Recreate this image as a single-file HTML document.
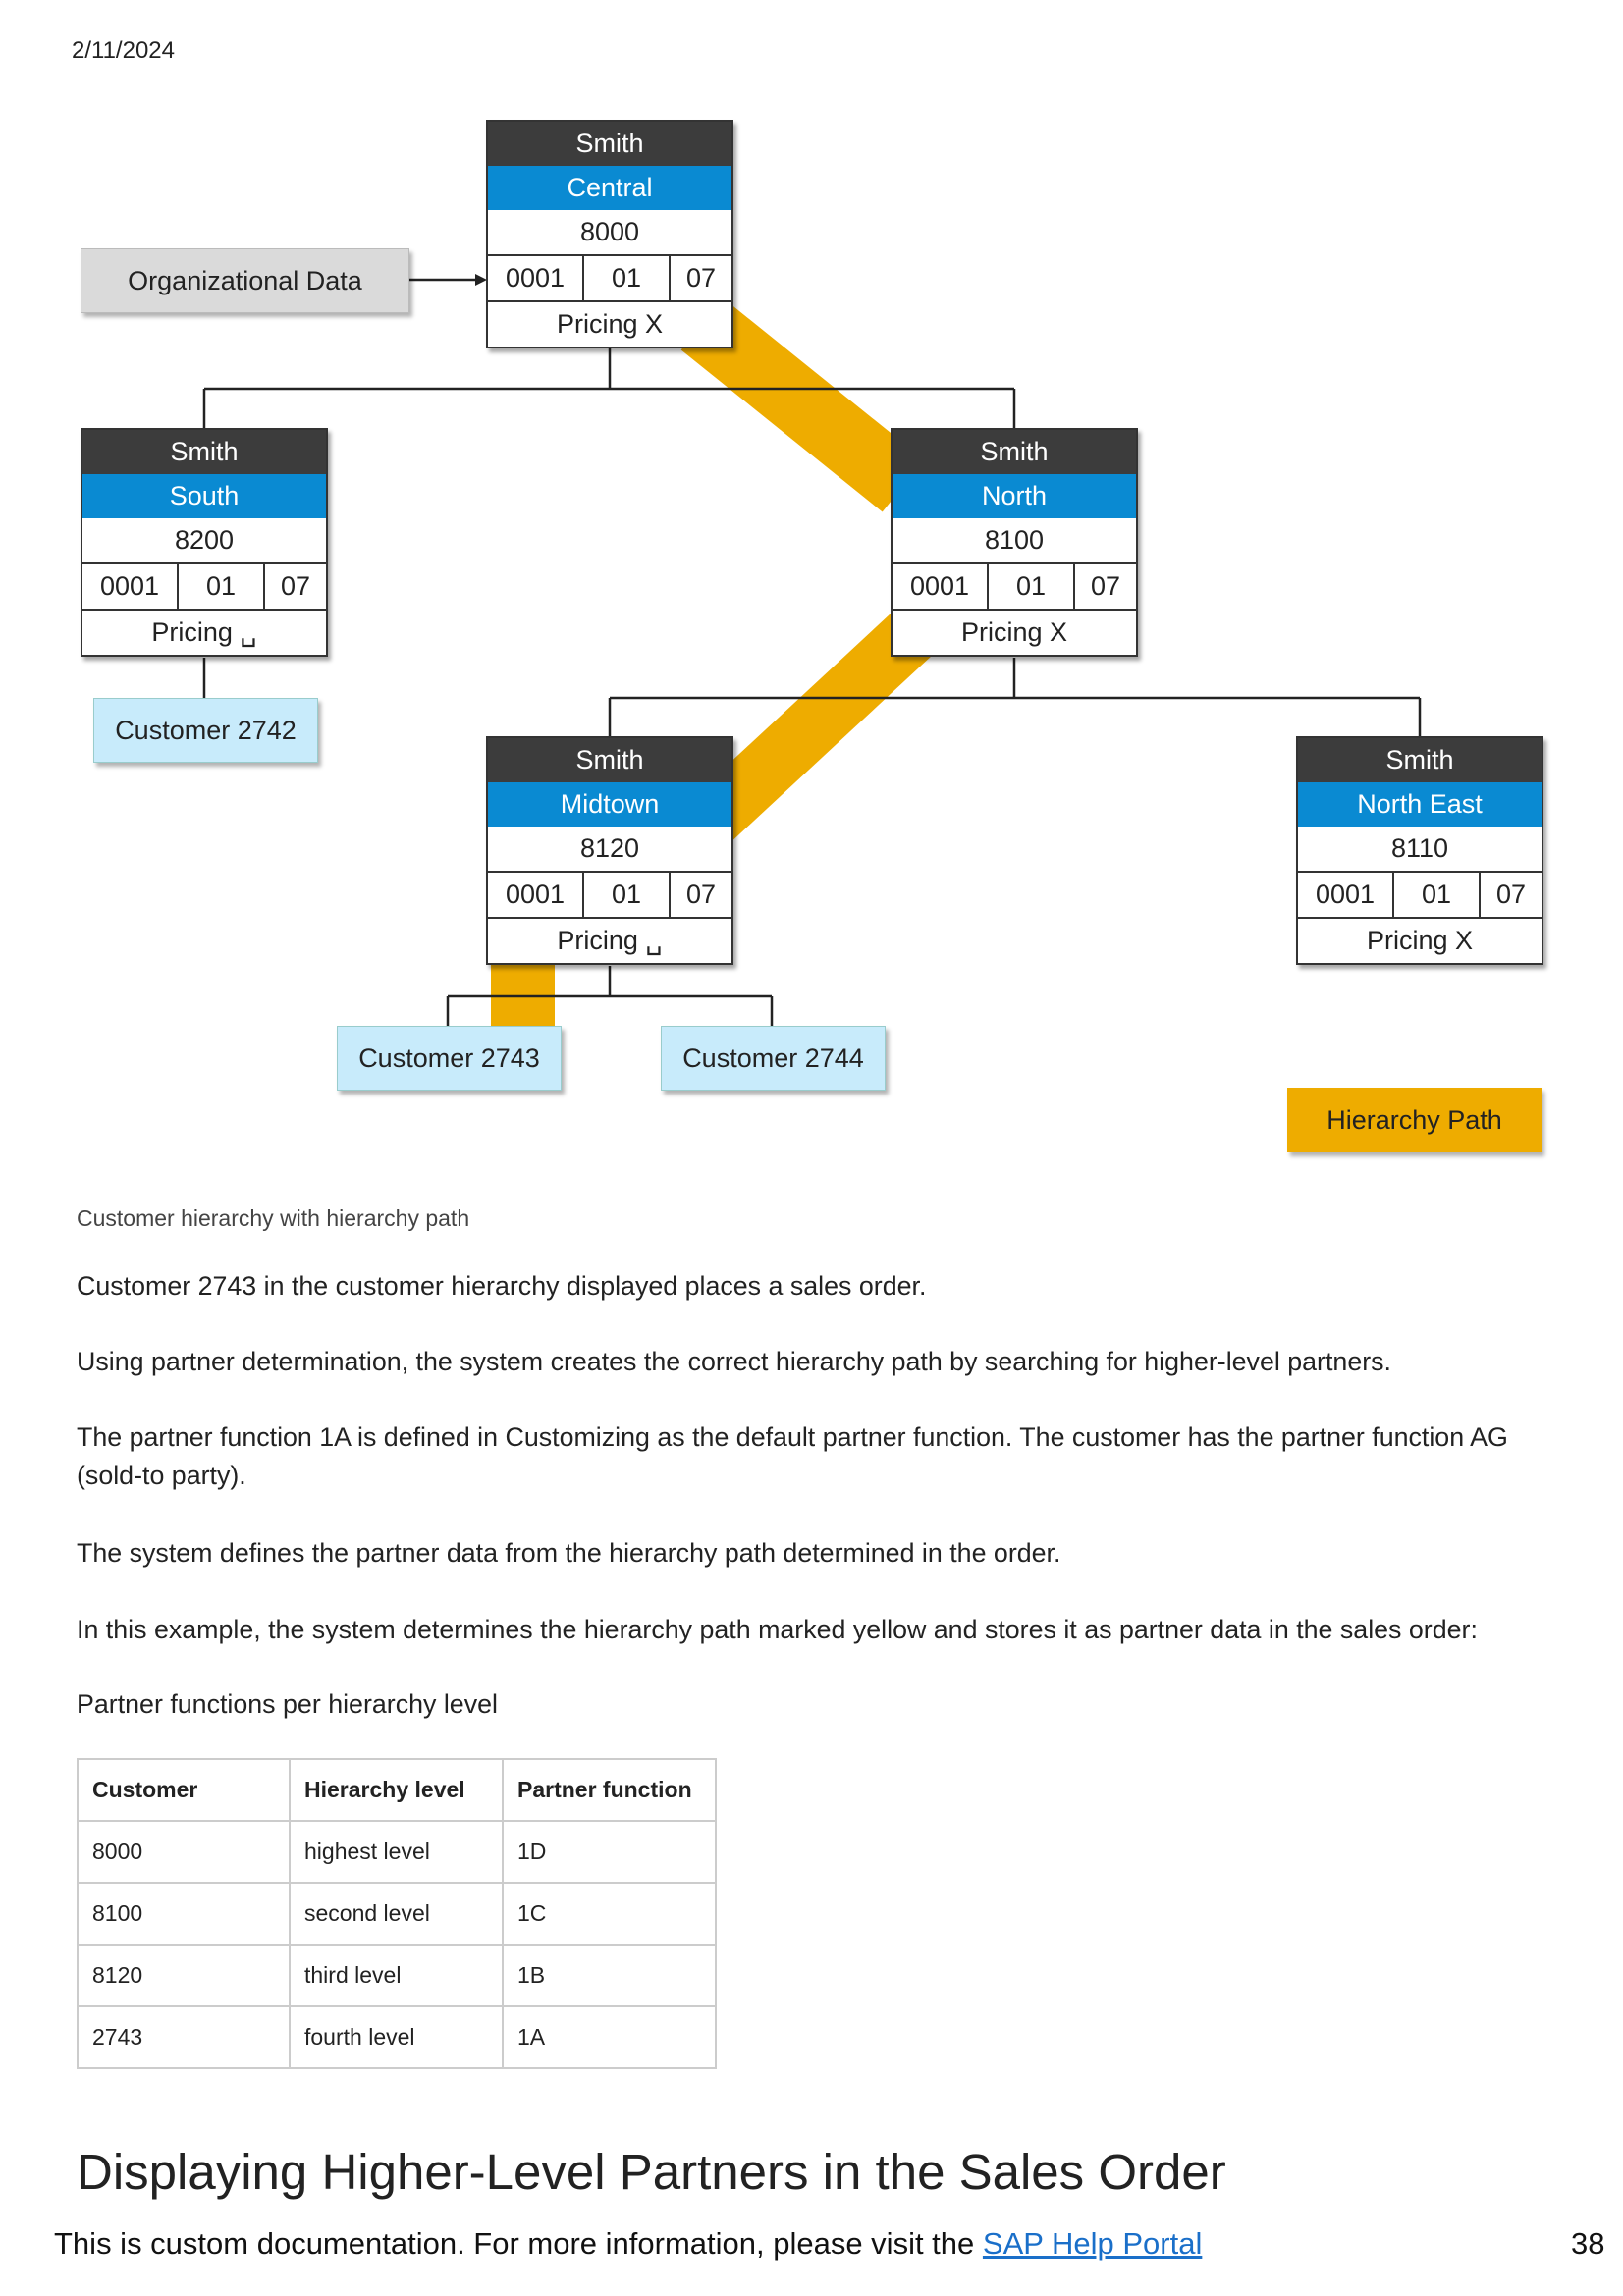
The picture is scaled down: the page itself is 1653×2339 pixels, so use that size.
<!DOCTYPE html>
<html><head><meta charset="utf-8"><style>
html,body{margin:0;padding:0;background:#fff}
body{width:1653px;height:2339px;position:relative;overflow:hidden;font-family:"Liberation Sans",sans-serif;color:#222}
.a{position:absolute}
.node{position:absolute;width:248px;border:2px solid #333;box-shadow:3px 4px 4px rgba(0,0,0,.35);background:#fff;font-size:27px;text-align:center}
.node div{height:45px;line-height:45px;box-sizing:border-box}
.node div.r{height:47px}
.h1{background:#3c3c3c;color:#fff}
.h2{background:#0a8ad2;color:#fff}
.r{border-top:2px solid #333;display:flex}
.r span{display:block;border-right:2px solid #333}
.r span:last-child{border-right:none}
.cust{position:absolute;background:#c8ebfb;border:1px solid #9cc;box-shadow:3px 4px 4px rgba(0,0,0,.3);font-size:27px;text-align:center;line-height:64px;height:64px;color:#222}
p.t{position:absolute;left:78px;margin:0;font-size:26.8px;color:#222}
table{position:absolute;left:78px;top:1791px;border-collapse:collapse;font-size:23px}
td{border:2px solid #ccc;height:61px;padding:0 14px;vertical-align:middle}
</style></head><body>
<div class="a" style="left:73px;top:38px;font-size:24px">2/11/2024</div>

<svg class="a" style="left:0;top:0" width="1653" height="1200">
<line x1="715" y1="330" x2="920" y2="495" stroke="#eeac00" stroke-width="68"/>
<line x1="935" y1="640" x2="725" y2="835" stroke="#eeac00" stroke-width="60"/>
<rect x="500" y="975" width="65" height="72" fill="#eeac00"/>
<g stroke="#222" stroke-width="2.5" fill="none">
<line x1="415" y1="285" x2="488" y2="285"/>
<line x1="621" y1="355" x2="621" y2="396"/>
<line x1="208" y1="396" x2="1033" y2="396"/>
<line x1="208" y1="396" x2="208" y2="436"/>
<line x1="1033" y1="396" x2="1033" y2="436"/>
<line x1="208" y1="670" x2="208" y2="711"/>
<line x1="1033" y1="670" x2="1033" y2="711"/>
<line x1="621" y1="711" x2="1446" y2="711"/>
<line x1="621" y1="711" x2="621" y2="750"/>
<line x1="1446" y1="711" x2="1446" y2="750"/>
<line x1="621" y1="984" x2="621" y2="1015"/>
<line x1="456" y1="1015" x2="786" y2="1015"/>
<line x1="456" y1="1015" x2="456" y2="1045"/>
<line x1="786" y1="1015" x2="786" y2="1045"/>
</g>
<polygon points="496,285 484,279 484,291" fill="#222"/>
</svg>

<div class="a" style="left:82px;top:253px;width:333px;height:64px;background:#dadada;border:1px solid #bbb;box-shadow:3px 4px 4px rgba(0,0,0,.3);font-size:27px;line-height:64px;text-align:center">Organizational Data</div>

<div class="node" style="left:495px;top:122px"><div class="h1">Smith</div><div class="h2">Central</div><div>8000</div><div class="r"><span style="width:96px">0001</span><span style="width:86px">01</span><span style="flex:1">07</span></div><div class="r" style="display:block">Pricing X</div></div>

<div class="node" style="left:82px;top:436px"><div class="h1">Smith</div><div class="h2">South</div><div>8200</div><div class="r"><span style="width:96px">0001</span><span style="width:86px">01</span><span style="flex:1">07</span></div><div class="r" style="display:block">Pricing ␣</div></div>

<div class="node" style="left:907px;top:436px"><div class="h1">Smith</div><div class="h2">North</div><div>8100</div><div class="r"><span style="width:96px">0001</span><span style="width:86px">01</span><span style="flex:1">07</span></div><div class="r" style="display:block">Pricing X</div></div>

<div class="node" style="left:495px;top:750px"><div class="h1">Smith</div><div class="h2">Midtown</div><div>8120</div><div class="r"><span style="width:96px">0001</span><span style="width:86px">01</span><span style="flex:1">07</span></div><div class="r" style="display:block">Pricing ␣</div></div>

<div class="node" style="left:1320px;top:750px"><div class="h1">Smith</div><div class="h2">North East</div><div>8110</div><div class="r"><span style="width:96px">0001</span><span style="width:86px">01</span><span style="flex:1">07</span></div><div class="r" style="display:block">Pricing X</div></div>

<div class="cust" style="left:95px;top:711px;width:227px">Customer 2742</div>
<div class="cust" style="left:343px;top:1045px;width:227px">Customer 2743</div>
<div class="cust" style="left:673px;top:1045px;width:227px">Customer 2744</div>
<div class="a" style="left:1311px;top:1108px;width:259px;height:66px;background:#eeac00;box-shadow:3px 4px 4px rgba(0,0,0,.3);font-size:27px;line-height:66px;text-align:center">Hierarchy Path</div>

<div class="a" style="left:78px;top:1228px;font-size:23px;color:#444">Customer hierarchy with hierarchy path</div>
<p class="t" style="top:1295px">Customer 2743 in the customer hierarchy displayed places a sales order.</p>
<p class="t" style="top:1372px">Using partner determination, the system creates the correct hierarchy path by searching for higher-level partners.</p>
<p class="t" style="top:1445px;width:1460px;line-height:39px">The partner function 1A is defined in Customizing as the default partner function. The customer has the partner function AG (sold-to party).</p>
<p class="t" style="top:1567px">The system defines the partner data from the hierarchy path determined in the order.</p>
<p class="t" style="top:1645px">In this example, the system determines the hierarchy path marked yellow and stores it as partner data in the sales order:</p>
<p class="t" style="top:1721px">Partner functions per hierarchy level</p>

<table>
<tr style="font-weight:bold"><td style="width:186px">Customer</td><td style="width:187px">Hierarchy level</td><td style="width:187px">Partner function</td></tr>
<tr><td>8000</td><td>highest level</td><td>1D</td></tr>
<tr><td>8100</td><td>second level</td><td>1C</td></tr>
<tr><td>8120</td><td>third level</td><td>1B</td></tr>
<tr><td>2743</td><td>fourth level</td><td>1A</td></tr>
</table>

<div class="a" style="left:78px;top:2183px;font-size:51px;color:#222">Displaying Higher-Level Partners in the Sales Order</div>
<div class="a" style="left:55px;top:2268px;font-size:31px;color:#111">This is custom documentation. For more information, please visit the <span style="color:#1a6fc9;text-decoration:underline">SAP Help Portal</span></div>
<div class="a" style="left:1600px;top:2268px;font-size:31px;color:#111">38</div>
</body></html>
